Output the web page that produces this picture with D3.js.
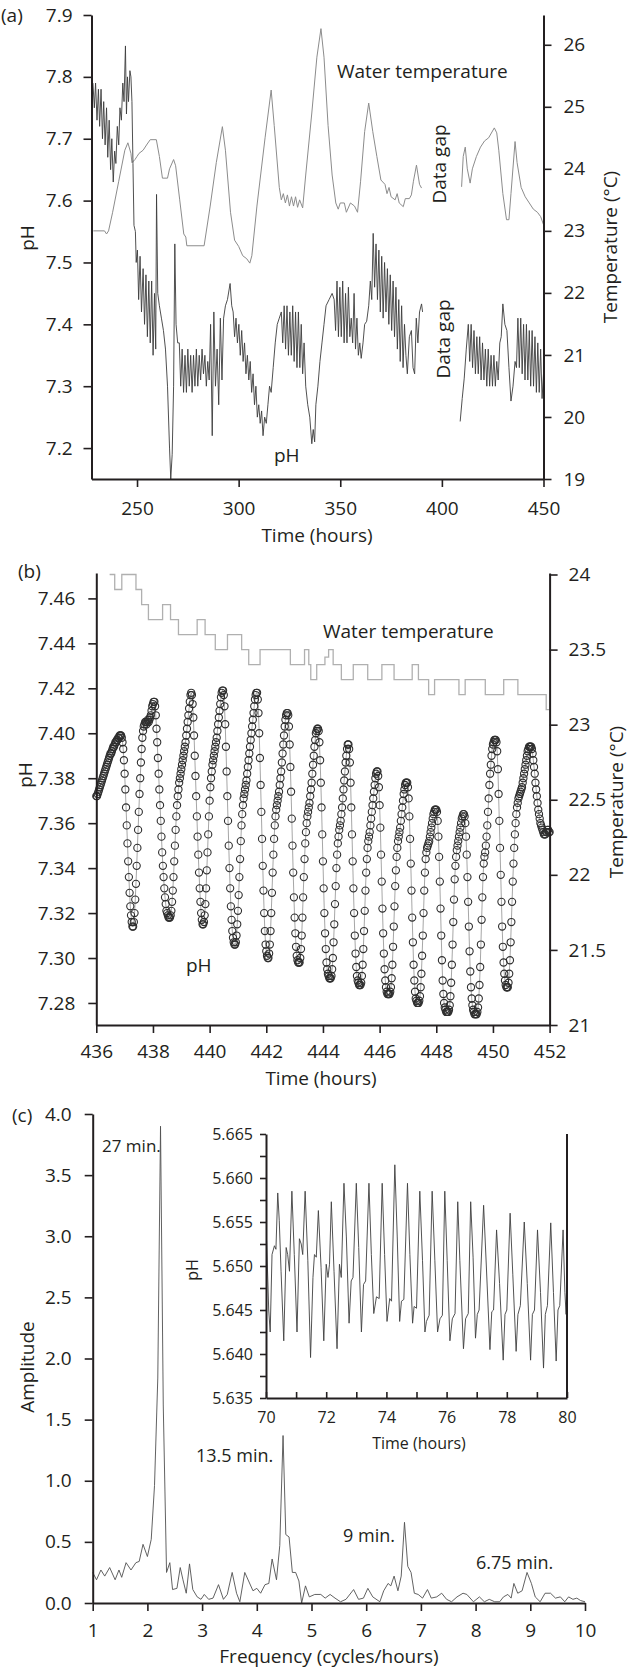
<!DOCTYPE html>
<html>
<head>
<meta charset="utf-8">
<script src="https://cdn.jsdelivr.net/npm/d3@7"></script>
<style>
  body { margin: 0; background: #fff; }
  svg text { font-family: 'Open Sans', sans-serif; fill: #231f20; }
</style>
</head>
<body>
<svg id="fig" width="632" height="1669"></svg>
<script>
// ---------- panel (a) ----------
var timeTicksA = [250, 300, 350, 400, 450];
var phTicksA = [7.2, 7.3, 7.4, 7.5, 7.6, 7.7, 7.8, 7.9];
var tempTicksA = [19, 20, 21, 22, 23, 24, 25, 26];

// [time (h), temperature (C)], null = data gap
var tempA = [[228.5,23.0],[234,23.0],[235,22.95],[236,23.0],[238,23.3],[241,23.8],[244,24.3],[245.5,24.42],[247,24.25],[247.5,24.1],
  [249,24.15],[250,24.2],[251,24.25],[253,24.3],[255,24.4],[256.5,24.47],[259.5,24.47],[261,24.2],[262.5,23.85],[265,23.85],
  [266,24.0],[268,24.15],[269,24.05],[271,23.5],[273,22.95],[274,22.9],[274.5,22.76],[283,22.76],[286,23.4],[289,24.1],
  [292,24.68],[293.5,24.3],[296,23.3],[298,22.85],[300,22.75],[302,22.6],[304,22.55],[305.5,22.48],[306.5,22.6],[309,23.4],
  [313,24.5],[316,25.27],[317.5,24.7],[320,23.7],[321,23.5],[322,23.6],[323,23.45],[324,23.58],[325,23.4],[326,23.55],
  [327,23.4],[328,23.55],[329,23.38],[330,23.5],[331.5,23.37],[333,23.9],[336,24.9],[338.5,25.8],[340.5,26.26],[342,25.8],
  [344,24.7],[346,23.9],[347.8,23.45],[349,23.35],[350,23.45],[352,23.45],[353,23.3],[355,23.45],[357,23.4],[358.5,23.3],
  [360,23.8],[362,24.6],[364,25.06],[366,24.6],[368,24.2],[370,23.82],[372,23.75],[373,23.6],[374,23.7],[375,23.55],
  [377,23.5],[378,23.6],[379,23.45],[381,23.39],[382,23.52],[384,23.52],[385,23.58],[386,23.8],[387.5,24.06],[389,23.75],
  [390,23.69], null,
  [409.7,23.71],[410.5,24.2],[411.5,24.35],[412.5,24.0],[413.9,23.77],[415,24.0],[417,24.2],[419,24.35],[421,24.45],[423,24.5],
  [425.8,24.66],[427,24.58],[428,24.3],[430,23.6],[431.8,23.18],[433,23.18],[434,23.6],[436,24.44],[437,24.1],[439,23.7],
  [441,23.55],[443,23.45],[445,23.35],[447,23.3],[448.6,23.23],[450,23.1]];

// [time (h), pH], null = data gap
var phA = [[228.3,7.79],[229,7.75],[229.6,7.79],[230.3,7.73],[231,7.78],[231.6,7.72],[232.3,7.78],[233,7.70],[233.6,7.76],[234.3,7.69],
  [235,7.75],[235.6,7.67],[236.3,7.73],[237,7.65],[237.6,7.70],[238.3,7.63],[239,7.68],[239.6,7.66],[240.3,7.72],[241,7.69],
  [241.6,7.75],[242.3,7.73],[243,7.79],[243.6,7.76],[244.3,7.85],[244.8,7.74],[245.3,7.80],[245.8,7.76],[246.5,7.81],[247,7.80],
  [247.5,7.76],[248,7.66],[248.5,7.56],[249.2,7.55],[249.6,7.50],[250.2,7.52],[250.8,7.44],[251.5,7.51],[252.2,7.42],[253,7.49],
  [253.7,7.40],[254.4,7.48],[255.1,7.38],[255.8,7.47],[256.5,7.37],[257.2,7.47],[257.9,7.35],[258.6,7.45],[259.2,7.36],[259.6,7.61],
  [260.2,7.45],[261,7.43],[262,7.41],[263,7.39],[264,7.36],[265,7.30],[266,7.20],[266.6,7.15],[267.3,7.19],[268,7.30],
  [268.6,7.53],[269.2,7.40],[270,7.37],[270.8,7.37],[271.5,7.30],[272.2,7.36],[272.9,7.29],[273.6,7.35],[274.3,7.29],[275,7.36],
  [275.7,7.30],[276.4,7.35],[277.1,7.29],[277.8,7.35],[278.5,7.30],[279.2,7.36],[279.9,7.30],[280.6,7.35],[281.3,7.31],[282,7.36],
  [282.7,7.32],[283.4,7.35],[284.1,7.30],[284.8,7.34],[285.5,7.31],[286.2,7.40],[287,7.22],[287.8,7.42],[288.6,7.30],[289.4,7.36],
  [290.2,7.27],[291,7.41],[291.8,7.31],[292.6,7.41],[293.5,7.43],[294.5,7.44],[295.8,7.466],[296.6,7.43],[297.3,7.42],[298,7.38],
  [298.7,7.41],[299.4,7.37],[300.1,7.40],[300.8,7.35],[301.5,7.39],[302.2,7.34],[302.9,7.37],[303.6,7.32],[304.3,7.35],[305,7.31],
  [305.7,7.34],[306.4,7.29],[307.1,7.32],[307.8,7.27],[308.5,7.30],[309.2,7.25],[309.9,7.27],[310.6,7.24],[311.3,7.26],[312,7.22],
  [312.8,7.25],[313.6,7.24],[314.4,7.27],[315.2,7.30],[316,7.29],[317,7.33],[318,7.37],[319,7.40],[320,7.41],[321,7.42],
  [321.7,7.37],[322.4,7.43],[323.1,7.36],[323.8,7.43],[324.5,7.35],[325.2,7.42],[325.9,7.35],[326.6,7.43],[327.3,7.34],[328,7.42],
  [328.7,7.33],[329.4,7.42],[330.1,7.33],[330.8,7.40],[331.5,7.32],[332.2,7.37],[333,7.30],[334,7.27],[335,7.25],[336,7.207],
  [336.7,7.23],[337.4,7.21],[338,7.27],[339,7.30],[340,7.34],[341,7.37],[342,7.40],[343,7.43],[344.5,7.44],[346,7.45],
  [347,7.44],[347.7,7.39],[348.4,7.47],[349.1,7.38],[349.8,7.46],[350.5,7.38],[351.2,7.47],[351.9,7.37],[352.6,7.45],[353.3,7.37],
  [354,7.46],[354.7,7.38],[355.4,7.41],[356.1,7.37],[356.8,7.45],[357.5,7.36],[358.2,7.41],[358.9,7.35],[359.6,7.37],[360.3,7.345],
  [361.2,7.37],[362,7.40],[363,7.405],[364,7.43],[364.8,7.47],[365.5,7.44],[366.2,7.547],[366.9,7.46],[367.6,7.53],[368.3,7.44],
  [369,7.52],[369.7,7.42],[370.4,7.51],[371.1,7.41],[371.8,7.50],[372.5,7.42],[373.2,7.49],[373.9,7.40],[374.6,7.48],[375.3,7.39],
  [376,7.47],[376.7,7.38],[377.4,7.46],[378.1,7.36],[378.8,7.44],[379.5,7.34],[380.2,7.43],[380.9,7.33],[381.6,7.40],[382.3,7.35],
  [383,7.32],[384,7.38],[385,7.39],[385.8,7.33],[386.6,7.32],[387.4,7.41],[388.2,7.37],[389,7.42],[390,7.433],[390.5,7.42],
  null,
  [409,7.243],[410,7.28],[411,7.313],[412,7.36],[413,7.40],[413.7,7.34],[414.4,7.40],[415.1,7.33],[415.8,7.39],[416.5,7.32],
  [417.2,7.38],[417.9,7.32],[418.6,7.38],[419.3,7.31],[420,7.37],[420.7,7.31],[421.4,7.36],[422.1,7.30],[422.8,7.36],[423.5,7.30],
  [424.2,7.35],[424.9,7.30],[425.6,7.35],[426.3,7.30],[427,7.34],[427.7,7.31],[428.5,7.37],[429.2,7.38],[430,7.433],[431,7.40],
  [432,7.39],[433,7.33],[434,7.276],[435,7.30],[436,7.34],[436.7,7.33],[437.4,7.41],[438.1,7.33],[438.8,7.41],[439.5,7.32],
  [440.2,7.40],[440.9,7.31],[441.6,7.40],[442.3,7.31],[443,7.39],[443.7,7.30],[444.4,7.39],[445.1,7.30],[445.8,7.38],[446.5,7.29],
  [447.2,7.37],[447.9,7.29],[448.6,7.36],[449.3,7.28],[450,7.32]];

// ---------- panel (b) ----------
var timeTicksB = [436, 438, 440, 442, 444, 446, 448, 450, 452];
var phTicksB = [7.28, 7.30, 7.32, 7.34, 7.36, 7.38, 7.40, 7.42, 7.44, 7.46];
var tempTicksB = [21, 21.5, 22, 22.5, 23, 23.5, 24];

var tempB_t = [436.47,436.65,436.9,437.4,437.6,437.84,438.34,438.62,438.9,439.56,439.84,440.2,440.63,441.13,441.38,441.78,442.85,443.35,443.5,443.57,
  443.78,444.07,444.2,444.36,444.65,445.07,445.58,446.08,446.51,447.15,447.37,447.73,447.94,448.8,449.02,449.73,450.38,450.88,451.88,452];
var tempB_v = [24.0,23.9,24.0,23.9,23.8,23.7,23.8,23.7,23.6,23.7,23.6,23.5,23.6,23.5,23.4,23.5,23.4,23.5,23.4,23.3,
  23.4,23.45,23.5,23.4,23.3,23.4,23.3,23.4,23.3,23.4,23.3,23.2,23.3,23.2,23.3,23.2,23.3,23.2,23.1,23.1];

// pH readings, one row per hour starting at 436 h, evenly spaced inside the hour
var phB_start = 436;
var phB_rows = [
  [7.372,7.372,7.373,7.374,7.375,7.376,7.377,7.378,7.379,7.380,7.381,7.382,7.383,7.384,7.385,7.386,7.387,7.388,7.389,7.390,7.391,7.391,7.392,7.393,7.394,7.394,7.395,7.396,7.396,7.397,7.397,7.398,7.398,7.399,7.399,7.399,7.398,7.396,7.393,7.388],
  [7.382,7.375,7.367,7.359,7.351,7.343,7.336,7.329,7.323,7.319,7.316,7.314,7.314,7.316,7.320,7.326,7.333,7.341,7.349,7.357,7.365,7.373,7.380,7.387,7.393,7.398,7.401,7.403,7.404,7.405,7.405,7.404,7.405,7.406,7.405,7.406,7.407,7.408,7.410,7.412],
  [7.413,7.414,7.414,7.412,7.408,7.402,7.396,7.389,7.382,7.375,7.368,7.361,7.354,7.347,7.341,7.336,7.331,7.327,7.324,7.321,7.320,7.319,7.318,7.318,7.318,7.319,7.321,7.325,7.330,7.336,7.343,7.350,7.357,7.363,7.368,7.372,7.375,7.378,7.380,7.382],
  [7.384,7.386,7.388,7.390,7.392,7.394,7.396,7.399,7.402,7.405,7.408,7.411,7.414,7.417,7.418,7.417,7.413,7.407,7.399,7.390,7.381,7.372,7.363,7.354,7.346,7.338,7.331,7.325,7.320,7.317,7.315,7.315,7.316,7.319,7.324,7.331,7.339,7.347,7.355,7.363],
  [7.370,7.376,7.380,7.383,7.386,7.388,7.390,7.392,7.394,7.396,7.398,7.401,7.404,7.407,7.410,7.413,7.416,7.418,7.419,7.419,7.417,7.412,7.404,7.394,7.383,7.372,7.361,7.350,7.340,7.331,7.323,7.317,7.312,7.309,7.307,7.306,7.306,7.307,7.310,7.315],
  [7.321,7.328,7.336,7.344,7.352,7.359,7.364,7.368,7.371,7.373,7.375,7.377,7.379,7.382,7.385,7.388,7.391,7.394,7.397,7.400,7.403,7.406,7.409,7.412,7.415,7.417,7.418,7.418,7.415,7.409,7.400,7.389,7.377,7.365,7.353,7.341,7.330,7.320,7.312,7.306],
  [7.303,7.301,7.300,7.300,7.302,7.306,7.312,7.320,7.329,7.338,7.346,7.353,7.359,7.363,7.366,7.368,7.370,7.372,7.374,7.377,7.380,7.383,7.387,7.391,7.395,7.399,7.403,7.406,7.408,7.409,7.409,7.408,7.403,7.395,7.385,7.374,7.362,7.350,7.338,7.327],
  [7.318,7.311,7.305,7.301,7.299,7.298,7.298,7.298,7.300,7.304,7.310,7.318,7.327,7.336,7.344,7.351,7.356,7.360,7.363,7.365,7.367,7.369,7.372,7.375,7.378,7.382,7.386,7.390,7.394,7.397,7.400,7.401,7.402,7.402,7.401,7.396,7.388,7.378,7.367,7.355],
  [7.343,7.331,7.320,7.311,7.304,7.298,7.295,7.293,7.292,7.291,7.291,7.291,7.292,7.295,7.300,7.307,7.315,7.324,7.332,7.340,7.346,7.351,7.354,7.357,7.359,7.361,7.364,7.367,7.371,7.375,7.379,7.383,7.387,7.390,7.393,7.395,7.395,7.393,7.387,7.378],
  [7.367,7.355,7.343,7.331,7.320,7.310,7.302,7.296,7.292,7.290,7.289,7.288,7.288,7.288,7.289,7.292,7.297,7.304,7.312,7.321,7.330,7.338,7.344,7.349,7.352,7.354,7.356,7.359,7.362,7.365,7.368,7.371,7.374,7.377,7.380,7.382,7.383,7.383,7.381,7.376],
  [7.368,7.358,7.346,7.334,7.322,7.311,7.302,7.295,7.290,7.287,7.285,7.284,7.284,7.284,7.284,7.285,7.287,7.291,7.297,7.305,7.314,7.323,7.332,7.339,7.345,7.349,7.352,7.354,7.356,7.358,7.361,7.364,7.367,7.370,7.373,7.375,7.377,7.378,7.378,7.378],
  [7.376,7.371,7.363,7.353,7.342,7.330,7.318,7.307,7.297,7.290,7.285,7.282,7.281,7.280,7.280,7.280,7.281,7.283,7.287,7.293,7.301,7.310,7.320,7.330,7.338,7.344,7.347,7.349,7.350,7.351,7.352,7.354,7.356,7.358,7.360,7.362,7.364,7.365,7.366,7.366],
  [7.366,7.365,7.361,7.354,7.345,7.334,7.322,7.310,7.299,7.290,7.284,7.280,7.278,7.277,7.276,7.276,7.276,7.276,7.277,7.279,7.283,7.289,7.297,7.306,7.316,7.326,7.335,7.341,7.345,7.348,7.350,7.352,7.354,7.356,7.358,7.360,7.362,7.363,7.364,7.364],
  [7.363,7.360,7.354,7.346,7.336,7.325,7.314,7.303,7.294,7.287,7.282,7.279,7.277,7.276,7.275,7.275,7.275,7.275,7.276,7.278,7.282,7.288,7.296,7.306,7.317,7.327,7.336,7.342,7.345,7.347,7.350,7.354,7.359,7.365,7.371,7.377,7.382,7.386,7.390,7.393],
  [7.395,7.396,7.397,7.397,7.397,7.396,7.392,7.384,7.373,7.361,7.349,7.337,7.325,7.314,7.305,7.298,7.293,7.290,7.288,7.287,7.287,7.287,7.289,7.293,7.299,7.307,7.316,7.325,7.334,7.342,7.349,7.355,7.360,7.364,7.367,7.369,7.371,7.372,7.373,7.374],
  [7.375,7.376,7.378,7.380,7.382,7.384,7.386,7.388,7.390,7.392,7.393,7.394,7.394,7.394,7.394,7.393,7.391,7.388,7.385,7.382,7.378,7.375,7.372,7.369,7.366,7.364,7.362,7.360,7.359,7.358,7.357,7.356,7.355,7.355,7.355,7.356,7.356,7.357,7.357,7.356],
  [7.356]
];

// ---------- panel (c) ----------
var freqTicks = [1, 2, 3, 4, 5, 6, 7, 8, 9, 10];
var ampTicks = [0, 0.5, 1, 1.5, 2, 2.5, 3, 3.5, 4];
// [frequency (cycles/h), amplitude]
var spectrum = [[1.00,0.25],[1.07,0.19],[1.15,0.27],[1.22,0.22],[1.31,0.29],[1.41,0.19],[1.48,0.27],[1.53,0.21],[1.61,0.33],[1.70,0.27],
  [1.79,0.33],[1.85,0.34],[1.92,0.48],[2.00,0.38],[2.07,0.52],[2.13,0.96],[2.19,1.84],[2.24,3.9],[2.29,1.62],[2.35,0.25],
  [2.41,0.33],[2.46,0.11],[2.54,0.12],[2.60,0.29],[2.65,0.19],[2.71,0.08],[2.77,0.32],[2.83,0.11],[2.91,0.05],[2.98,0.03],
  [3.04,0.07],[3.12,0.03],[3.20,0.04],[3.30,0.15],[3.39,0.03],[3.46,0.07],[3.55,0.25],[3.63,0.08],[3.69,0.01],[3.78,0.25],
  [3.85,0.18],[3.93,0.10],[4.00,0.12],[4.07,0.08],[4.15,0.15],[4.22,0.16],[4.28,0.36],[4.36,0.19],[4.42,0.47],[4.48,1.37],
  [4.53,0.56],[4.59,0.54],[4.65,0.25],[4.71,0.25],[4.77,0.18],[4.82,0.0],[4.89,0.14],[4.96,0.05],[5.06,0.07],[5.17,0.07],
  [5.25,0.04],[5.34,0.07],[5.43,0.04],[5.53,0.01],[5.63,0.03],[5.77,0.11],[5.86,0.03],[5.95,0.04],[6.03,0.12],[6.12,0.05],
  [6.25,0.01],[6.32,0.10],[6.40,0.16],[6.45,0.14],[6.51,0.22],[6.58,0.10],[6.64,0.22],[6.70,0.66],[6.76,0.30],[6.82,0.25],
  [6.88,0.08],[6.95,0.07],[7.03,0.04],[7.12,0.11],[7.19,0.04],[7.29,0.05],[7.38,0.08],[7.47,0.03],[7.56,0.01],[7.66,0.05],
  [7.77,0.08],[7.84,0.07],[7.96,0.01],[8.07,0.05],[8.16,0.01],[8.25,0.03],[8.35,0.01],[8.44,0.01],[8.51,0.05],[8.59,0.07],
  [8.65,0.04],[8.70,0.16],[8.77,0.08],[8.85,0.10],[8.94,0.25],[9.02,0.16],[9.09,0.05],[9.18,0.01],[9.27,0.08],[9.37,0.08],
  [9.46,0.04],[9.55,0.05],[9.63,0.01],[9.70,0.05],[9.78,0.03],[9.85,0.04],[9.92,0.02],[10.0,0.01]];
var peakLabels = ["27 min.", "13.5 min.", "9 min.", "6.75 min."];

// inset
var insetTimeTicks = [70, 71, 72, 73, 74, 75, 76, 77, 78, 79, 80];
var insetPhTicks = [5.635, 5.6375, 5.64, 5.6425, 5.645, 5.6475, 5.65, 5.6525, 5.655, 5.6575, 5.66, 5.6625, 5.665];
var inset = [[70.02,5.6529],[70.09,5.645],[70.14,5.6425],[70.2,5.6513],[70.28,5.6523],[70.33,5.6519],[70.39,5.6583],[70.44,5.6552],[70.5,5.6494],[70.59,5.6415],
  [70.67,5.6521],[70.72,5.6513],[70.78,5.6494],[70.86,5.6585],[70.94,5.6513],[71.03,5.6425],[71.11,5.6531],[71.17,5.6525],[71.22,5.6513],[71.3,5.6585],
  [71.39,5.6506],[71.48,5.6396],[71.56,5.6487],[71.61,5.6513],[71.67,5.651],[71.74,5.6563],[71.83,5.6498],[71.92,5.6415],[72.0,5.6502],[72.06,5.6487],
  [72.11,5.6502],[72.17,5.6573],[72.26,5.6494],[72.36,5.6406],[72.44,5.6502],[72.5,5.6487],[72.59,5.6594],[72.67,5.6533],[72.76,5.6435],[72.83,5.6483],
  [72.89,5.6487],[73.0,5.6594],[73.08,5.6521],[73.17,5.6425],[73.24,5.6479],[73.31,5.6483],[73.42,5.6594],[73.5,5.6513],[73.58,5.6446],[73.67,5.6465],
  [73.76,5.6463],[73.86,5.6594],[73.94,5.6513],[74.02,5.6437],[74.11,5.6463],[74.17,5.646],[74.28,5.6615],[74.36,5.6533],[74.44,5.6437],[74.5,5.646],
  [74.58,5.6462],[74.7,5.6594],[74.78,5.6513],[74.87,5.6435],[74.92,5.6454],[75.0,5.6452],[75.11,5.6585],[75.2,5.6506],[75.28,5.6425],[75.33,5.6437],
  [75.42,5.6444],[75.52,5.6585],[75.61,5.6506],[75.7,5.6425],[75.78,5.644],[75.86,5.6444],[75.94,5.6585],[76.02,5.6506],[76.11,5.6415],[76.19,5.644],
  [76.28,5.6446],[76.37,5.6573],[76.44,5.6506],[76.56,5.6406],[76.63,5.644],[76.72,5.6446],[76.8,5.6573],[76.88,5.651],[76.96,5.6418],[77.02,5.6445],
  [77.08,5.645],[77.23,5.6569],[77.32,5.650],[77.44,5.6405],[77.5,5.6448],[77.56,5.645],[77.66,5.6541],[77.76,5.648],[77.88,5.6393],[77.94,5.6445],
  [78.0,5.645],[78.11,5.656],[78.2,5.649],[78.31,5.6403],[78.37,5.6445],[78.45,5.6455],[78.58,5.655],[78.68,5.648],[78.79,5.6393],[78.85,5.6445],
  [78.92,5.645],[79.02,5.6541],[79.12,5.647],[79.22,5.6384],[79.28,5.6445],[79.35,5.6455],[79.46,5.6549],[79.55,5.647],[79.64,5.6392],[79.7,5.645],
  [79.76,5.6455],[79.87,5.6541],[79.93,5.647],[79.97,5.6445],[80.0,5.650]];

// ---------- drawing ----------
var svg = d3.select("#fig");
var INK = "#231f20";

function styleAxis(g, fs) {
  g.attr("font-family", "'Open Sans', sans-serif").attr("font-size", fs);
  g.select(".domain").attr("stroke", INK).attr("stroke-width", 2);
  g.selectAll(".tick line").attr("stroke", INK).attr("stroke-width", 1.6);
  g.selectAll(".tick text").attr("fill", INK);
  return g;
}

function label(x, y, txt, fs, anchor, rot) {
  var t = svg.append("text").text(txt)
    .attr("font-size", fs)
    .attr("text-anchor", anchor || "start");
  if (rot) t.attr("transform", "translate(" + x + "," + y + ") rotate(" + rot + ")");
  else t.attr("x", x).attr("y", y);
  return t;
}

// ===== (a) =====
var xA = d3.scaleLinear().domain([227.6, 450]).range([91.5, 543.5]);
var yA = d3.scaleLinear().domain([7.15, 7.9]).range([479, 15]);
var tA = d3.scaleLinear().domain([19, 26.48]).range([479, 15]);

var lineTempA = d3.line().defined(function(d) { return d; })
  .x(function(d) { return xA(d[0]); }).y(function(d) { return tA(d[1]); });
var linePhA = d3.line().defined(function(d) { return d; })
  .x(function(d) { return xA(d[0]); }).y(function(d) { return yA(d[1]); });

svg.append("path").datum(tempA).attr("d", lineTempA)
  .attr("fill", "none").attr("stroke", "#8c8c8c").attr("stroke-width", 1);
svg.append("path").datum(phA).attr("d", linePhA)
  .attr("fill", "none").attr("stroke", "#3c3c3c").attr("stroke-width", 0.9);

styleAxis(svg.append("g").attr("transform", "translate(91.5,0)")
  .call(d3.axisLeft(yA).tickValues(phTicksA).tickFormat(d3.format(".1f"))
    .tickSize(8).tickSizeOuter(0).tickPadding(11)), 19);
styleAxis(svg.append("g").attr("transform", "translate(543.5,0)")
  .call(d3.axisRight(tA).tickValues(tempTicksA).tickFormat(d3.format("d"))
    .tickSize(8).tickSizeOuter(0).tickPadding(12)), 19);
styleAxis(svg.append("g").attr("transform", "translate(0,479)")
  .call(d3.axisBottom(xA).tickValues(timeTicksA).tickFormat(d3.format("d"))
    .tickSize(8).tickSizeOuter(0).tickPadding(15)), 19);

label(1, 22, "(a)", 19);
label(317, 542, "Time (hours)", 19, "middle");
label(34, 238, "pH", 19, "middle", -90);
label(617, 247, "Temperature (°C)", 19, "middle", -90);
label(337, 78, "Water temperature", 19);
label(446, 164, "Data gap", 19, "middle", -90);
label(450, 339, "Data gap", 19, "middle", -90);
label(274, 462, "pH", 19);

// ===== (b) =====
var xB = d3.scaleLinear().domain([436, 452]).range([96.3, 549.6]);
var yB = d3.scaleLinear().domain([7.2702, 7.4713]).range([1025, 573]);
var tB = d3.scaleLinear().domain([21, 24.01]).range([1025, 573]);

var tempB = tempB_t.map(function(t, i) { return [t, tempB_v[i]]; });
svg.append("path").datum(tempB)
  .attr("d", d3.line().curve(d3.curveStepAfter)
    .x(function(d) { return xB(d[0]); }).y(function(d) { return tB(d[1]); }))
  .attr("fill", "none").attr("stroke", "#b0b0b0").attr("stroke-width", 1.3);

var phB = [];
phB_rows.forEach(function(row, h) {
  row.forEach(function(v, j) { phB.push([phB_start + h + j / 40, v]); });
});
svg.append("path").datum(phB)
  .attr("d", d3.line().x(function(d) { return xB(d[0]); }).y(function(d) { return yB(d[1]); }))
  .attr("fill", "none").attr("stroke", "#6a6a6a").attr("stroke-width", 0.6);
svg.append("g").selectAll("circle").data(phB).enter().append("circle")
  .attr("cx", function(d) { return xB(d[0]); })
  .attr("cy", function(d) { return yB(d[1]); })
  .attr("r", 3.6)
  .attr("fill", "none").attr("stroke", "#2e2e2e").attr("stroke-width", 1.1);

styleAxis(svg.append("g").attr("transform", "translate(96.3,0)")
  .call(d3.axisLeft(yB).tickValues(phTicksB).tickFormat(d3.format(".2f"))
    .tickSize(8).tickSizeOuter(0).tickPadding(13)), 19);
styleAxis(svg.append("g").attr("transform", "translate(549.6,0)")
  .call(d3.axisRight(tB).tickValues(tempTicksB)
    .tickFormat(function(d) { return d % 1 ? d.toFixed(1) : d; })
    .tickSize(8).tickSizeOuter(0).tickPadding(11)), 19);
styleAxis(svg.append("g").attr("transform", "translate(0,1025)")
  .call(d3.axisBottom(xB).tickValues(timeTicksB).tickFormat(d3.format("d"))
    .tickSize(8).tickSizeOuter(0).tickPadding(12)), 19);

label(18, 578, "(b)", 19);
label(321, 1085, "Time (hours)", 19, "middle");
label(32, 775, "pH", 19, "middle", -90);
label(623, 802, "Temperature (°C)", 19, "middle", -90);
label(323, 638, "Water temperature", 19);
label(186, 972, "pH", 19);

// ===== (c) =====
var xC = d3.scaleLinear().domain([1, 10]).range([92.7, 585]);
var yC = d3.scaleLinear().domain([0, 4]).range([1603, 1114]);

svg.append("path").datum(spectrum)
  .attr("d", d3.line().x(function(d) { return xC(d[0]); }).y(function(d) { return yC(d[1]); }))
  .attr("fill", "none").attr("stroke", "#505050").attr("stroke-width", 0.9);

styleAxis(svg.append("g").attr("transform", "translate(92.7,0)")
  .call(d3.axisLeft(yC).tickValues(ampTicks).tickFormat(d3.format(".1f"))
    .tickSize(8).tickSizeOuter(0).tickPadding(13)), 19);
styleAxis(svg.append("g").attr("transform", "translate(0,1603)")
  .call(d3.axisBottom(xC).tickValues(freqTicks).tickFormat(d3.format("d"))
    .tickSize(8).tickSizeOuter(0).tickPadding(13)), 19);

label(12, 1122, "(c)", 19);
label(329, 1663, "Frequency (cycles/hours)", 19, "middle");
label(34, 1367, "Amplitude", 19, "middle", -90);
label(102, 1152, peakLabels[0], 17);
label(196, 1462, peakLabels[1], 18);
label(343, 1542, peakLabels[2], 18);
label(476, 1569, peakLabels[3], 18);

// inset
var xI = d3.scaleLinear().domain([70, 80]).range([266, 567]);
var yI = d3.scaleLinear().domain([5.635, 5.665]).range([1398, 1134]);

svg.append("path").datum(inset)
  .attr("d", d3.line().x(function(d) { return xI(d[0]); }).y(function(d) { return yI(d[1]); }))
  .attr("fill", "none").attr("stroke", "#404040").attr("stroke-width", 0.9);

styleAxis(svg.append("g").attr("transform", "translate(266,0)")
  .call(d3.axisLeft(yI).tickValues(insetPhTicks)
    .tickFormat(function(d, i) { return i % 2 ? "" : d3.format(".3f")(d); })
    .tickSize(6).tickSizeOuter(0).tickPadding(7)), 16);
styleAxis(svg.append("g").attr("transform", "translate(0,1398)")
  .call(d3.axisBottom(xI).tickValues(insetTimeTicks)
    .tickFormat(function(d) { return d % 2 ? "" : d; })
    .tickSize(-6).tickSizeOuter(0).tickPadding(14)), 16);
svg.append("line")
  .attr("x1", xI(80)).attr("x2", xI(80))
  .attr("y1", yI(5.665)).attr("y2", yI(5.635))
  .attr("stroke", INK).attr("stroke-width", 2);

label(419, 1449, "Time (hours)", 16, "middle");
label(198, 1270, "pH", 16, "middle", -90);
</script>
</body>
</html>
